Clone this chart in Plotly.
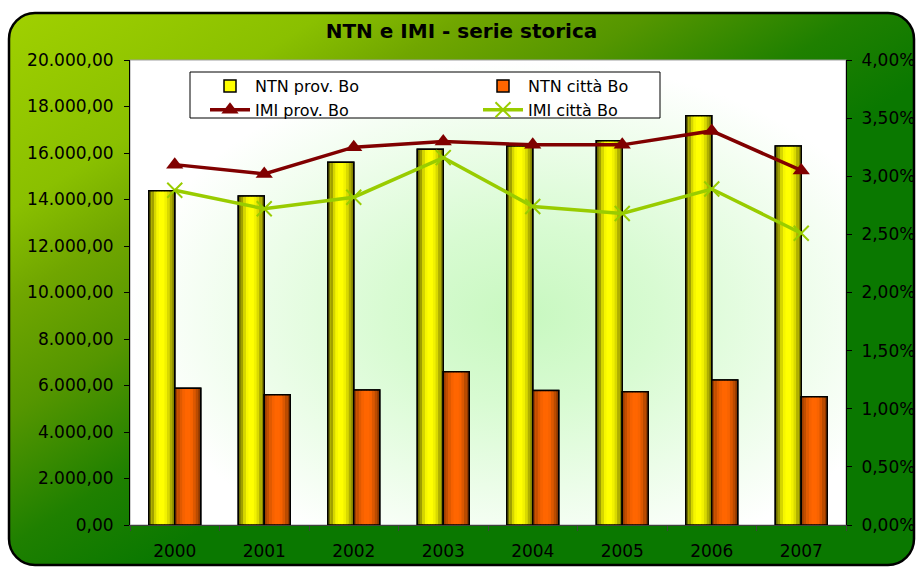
import base64
import plotly.graph_objects as go

# ---------------- data ----------------
years = ["2000", "2001", "2002", "2003", "2004", "2005", "2006", "2007"]
ntn_prov = [14380, 14150, 15600, 16160, 16300, 16530, 17600, 16300]
ntn_citta = [5880, 5600, 5810, 6590, 5790, 5730, 6240, 5520]
imi_prov = [0.0310, 0.0302, 0.0325, 0.0330, 0.0327, 0.0327, 0.0339, 0.0305]
imi_citta = [0.0288, 0.0272, 0.0282, 0.0316, 0.0274, 0.0268, 0.0289, 0.0251]
names = ["NTN prov. Bo", "NTN città Bo", "IMI prov. Bo", "IMI città Bo"]
left_ticks = [0, 2000, 4000, 6000, 8000, 10000, 12000, 14000, 16000, 18000, 20000]
right_ticks = [0, 0.005, 0.01, 0.015, 0.02, 0.025, 0.03, 0.035, 0.04]
title = "NTN e IMI - serie storica"

# ---------------- geometry / style ----------------
W, H = 916, 567
ML, MR, MT, MB = 130, 70, 60, 42
PW, PH = W - ML - MR, H - MT - MB
FONT = "DejaVu Sans"

yellow_prof = [(0.0, "#5c5c00"), (0.12, "#8f8f00"), (0.25, "#d6d600"), (0.38, "#ffff00"),
               (0.6, "#ffff00"), (0.75, "#d9d900"), (0.88, "#a3a300"), (1.0, "#6e6e00")]
orange_prof = [(0.0, "#8c3800"), (0.15, "#c24e00"), (0.3, "#f06000"), (0.42, "#ff6600"),
               (0.62, "#ff6600"), (0.78, "#d45500"), (0.9, "#a84400"), (1.0, "#7a3000")]


def hex2rgb(h):
    h = h.lstrip("#")
    return tuple(int(h[i:i + 2], 16) for i in (0, 2, 4))


def sample(prof, t):
    for (p0, c0), (p1, c1) in zip(prof[:-1], prof[1:]):
        if p0 <= t <= p1:
            f = 0 if p1 == p0 else (t - p0) / (p1 - p0)
            a, b = hex2rgb(c0), hex2rgb(c1)
            return "rgb(%d,%d,%d)" % tuple(round(a[i] + (b[i] - a[i]) * f) for i in range(3))
    return prof[-1][1]


# background svg (rounded green frame + plot-area radial gradient)
svg = f'''<svg xmlns="http://www.w3.org/2000/svg" width="{W}" height="{H}" viewBox="0 0 {W} {H}" preserveAspectRatio="none">
<defs>
<linearGradient id="g" gradientUnits="userSpaceOnUse" x1="0" y1="0" x2="295" y2="472">
<stop offset="0" stop-color="#a2d200"/>
<stop offset="0.33" stop-color="#8ac000"/>
<stop offset="0.47" stop-color="#70a600"/>
<stop offset="0.64" stop-color="#559600"/>
<stop offset="0.84" stop-color="#1f8000"/>
<stop offset="1" stop-color="#0a7800"/>
</linearGradient>
<radialGradient id="r" cx="0.55" cy="0.55" r="0.55">
<stop offset="0" stop-color="#c8f8c0"/>
<stop offset="0.35" stop-color="#d8fbd2"/>
<stop offset="1" stop-color="#ffffff"/>
</radialGradient>
</defs>
<rect x="9" y="13" width="905" height="552" rx="26" ry="26" fill="url(#g)" stroke="#000" stroke-width="2.5"/>
<rect x="{ML}" y="{MT}" width="{PW}" height="{PH}" fill="url(#r)" stroke="#a0a0a0" stroke-width="1"/>
</svg>'''
svg_uri = "data:image/svg+xml;base64," + base64.b64encode(svg.encode()).decode()

fig = go.Figure()

BW = 0.29
N = 10
bar_specs = [
    (ntn_prov, names[0], yellow_prof, -BW, "#ffff00", "legend"),
    (ntn_citta, names[1], orange_prof, 0.0, "#ff6600", "legend2"),
]
for vals, nm, prof, off, base_col, lg in bar_specs:
    fig.add_trace(go.Bar(x=years, y=vals, name=nm, width=BW, offset=off,
                         marker=dict(color=base_col, line=dict(color="#000", width=1.5)),
                         legend=lg, hoverinfo="name+y"))
    for i in range(N):
        fig.add_trace(go.Bar(x=years, y=vals, width=BW / N, offset=off + i * BW / N,
                             marker=dict(color=sample(prof, (i + 0.5) / N), line=dict(width=0)),
                             showlegend=False, hoverinfo="skip"))
    fig.add_trace(go.Bar(x=years, y=vals, width=BW, offset=off,
                         marker=dict(color="rgba(0,0,0,0)", line=dict(color="#000", width=1.5)),
                         showlegend=False, hoverinfo="skip"))

fig.add_trace(go.Scatter(x=years, y=imi_prov, name=names[2], yaxis="y2", mode="lines+markers",
                         line=dict(color="#800000", width=3.5),
                         marker=dict(symbol="triangle-up", size=15, color="#800000"),
                         legend="legend"))
fig.add_trace(go.Scatter(x=years, y=imi_citta, name=names[3], yaxis="y2", mode="lines+markers",
                         line=dict(color="#99cc00", width=3.5),
                         marker=dict(symbol="x-thin", size=15, color="#99cc00",
                                     line=dict(color="#99cc00", width=2)),
                         legend="legend2"))

leg_common = dict(bgcolor="rgba(0,0,0,0)", borderwidth=0, font=dict(family=FONT, size=16, color="#000"),
                  yanchor="top", y=(H - MB - 69) / PH, xanchor="left", itemwidth=40,
                  tracegroupgap=0, orientation="v")

fig.update_layout(
    width=W, height=H, autosize=False,
    margin=dict(l=ML, r=MR, t=MT, b=MB, pad=0, autoexpand=False),
    paper_bgcolor="white", plot_bgcolor="rgba(0,0,0,0)",
    separators=",.",
    barmode="overlay",
    font=dict(family=FONT, size=17, color="#000"),
    title=dict(text="<b>" + title + "</b>", x=461.5 / W, xanchor="center", xref="container",
               y=1 - 31 / H, yanchor="middle", yref="container", automargin=False,
               font=dict(family=FONT, size=20, color="#000")),
    xaxis=dict(type="category", range=[-0.5, 7.5], showline=True, linecolor="#404040", linewidth=1,
               ticks="outside", ticklen=5, tickcolor="#404040", tickson="boundaries",
               ticklabelstandoff=11, showgrid=False, zeroline=False, automargin=False,
               tickfont=dict(family=FONT, size=17)),
    yaxis=dict(range=[0, 20000], tickvals=left_ticks, tickformat=",.2f", showline=True,
               linecolor="#000", linewidth=1, ticks="outside", ticklen=5, tickcolor="#000",
               ticklabelstandoff=7, showgrid=False, zeroline=False, automargin=False,
               tickfont=dict(family=FONT, size=17)),
    yaxis2=dict(range=[0, 0.04], tickvals=right_ticks, tickformat=".2%", overlaying="y", side="right",
                showline=True, linecolor="#000", linewidth=1, ticks="outside", ticklen=5,
                tickcolor="#000", ticklabelstandoff=6, showgrid=False, zeroline=False,
                automargin=False, tickfont=dict(family=FONT, size=17)),
    legend=dict(x=(205 - ML) / PW, **leg_common),
    legend2=dict(x=(478 - ML) / PW, **leg_common),
    images=[dict(source=svg_uri, xref="paper", yref="paper", x=-ML / PW, y=1 + MT / PH,
                 sizex=W / PW, sizey=H / PH, xanchor="left", yanchor="top", sizing="stretch",
                 layer="below")],
    shapes=[dict(type="rect", xref="paper", yref="paper", layer="below",
                 x0=(190 - ML) / PW, x1=(660 - ML) / PW,
                 y0=(H - MB - 118) / PH, y1=(H - MB - 72) / PH,
                 fillcolor="white", line=dict(color="#000", width=1))],
    showlegend=True,
)

fig.write_html("out.html")
